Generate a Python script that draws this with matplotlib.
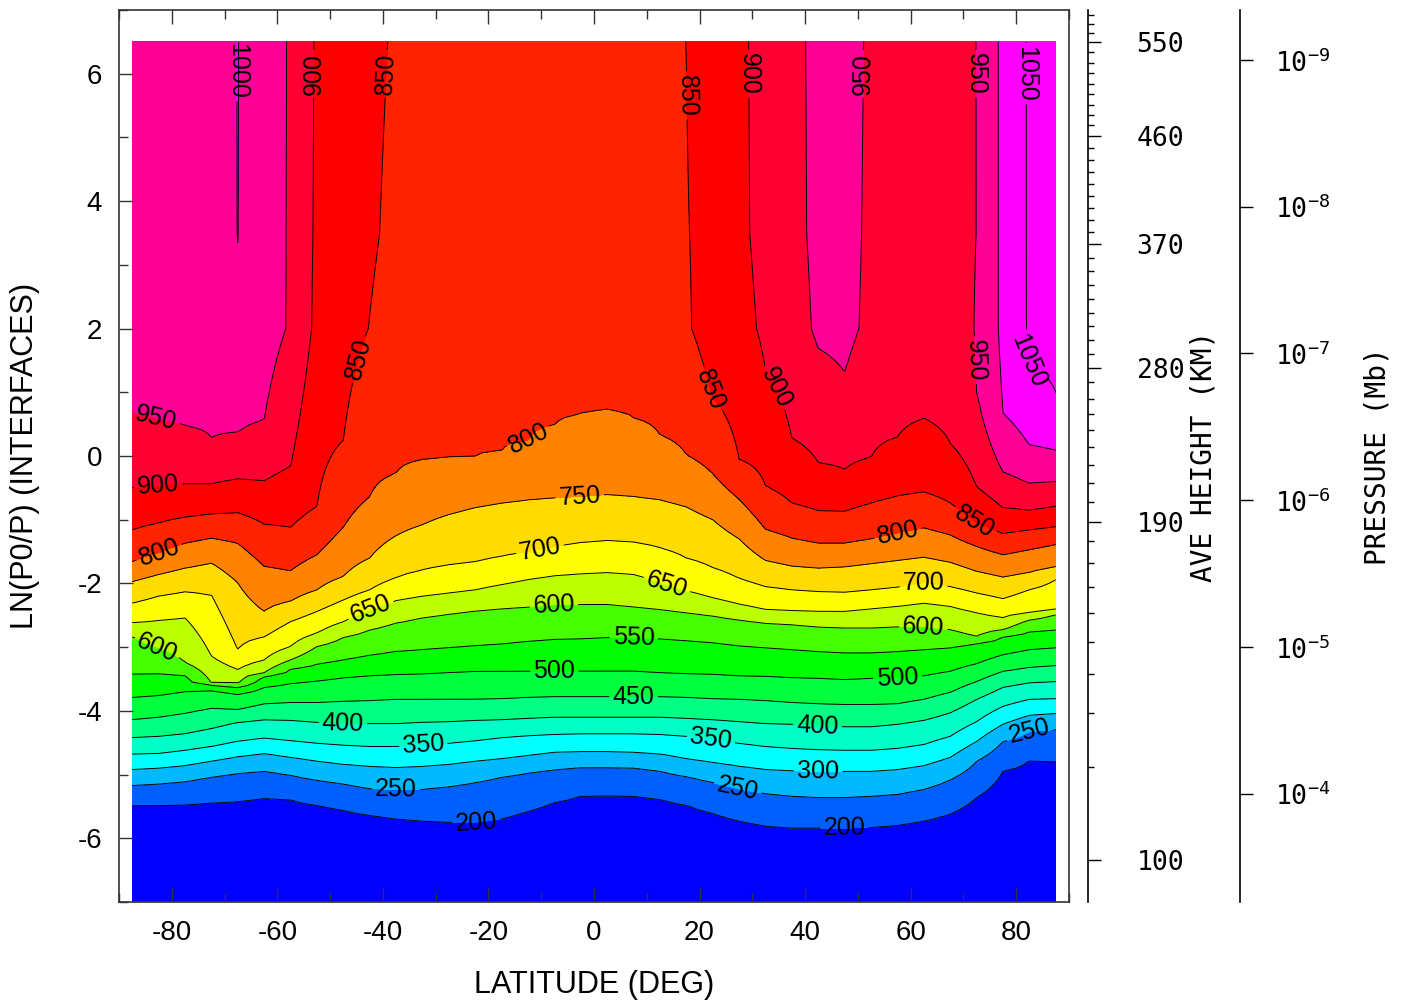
import numpy as np
import matplotlib
matplotlib.use('Agg')
import matplotlib.pyplot as plt
from matplotlib.ticker import MultipleLocator, FixedLocator

plt.rcParams['font.family'] = ['Liberation Sans', 'DejaVu Sans']
plt.rcParams['axes.unicode_minus'] = False
plt.rcParams['mathtext.fontset'] = 'custom'
plt.rcParams['mathtext.rm'] = 'DejaVu Sans Mono'
plt.rcParams['mathtext.it'] = 'DejaVu Sans Mono'

nan = np.nan

# latitude grid of the model (deg)
lats = np.arange(-87.5, 88.0, 5.0)

# height (ln(p0/p)) at which each isotherm is crossed, per latitude
z200 = [-5.48, -5.48, -5.47, -5.45, -5.42, -5.37, -5.40, -5.48, -5.56, -5.64, -5.70, -5.73,
        -5.75, -5.75, -5.70, -5.58, -5.44, -5.34, -5.33, -5.34, -5.39, -5.48, -5.61, -5.73,
        -5.81, -5.84, -5.84, -5.84, -5.83, -5.80, -5.73, -5.62, -5.36, -4.95, -4.78, -4.80]
z250 = [-5.17, -5.15, -5.11, -5.04, -4.98, -4.95, -5.01, -5.09, -5.15, -5.22, -5.23, -5.23,
        -5.19, -5.12, -5.04, -4.97, -4.92, -4.89, -4.89, -4.90, -4.95, -5.03, -5.12, -5.22,
        -5.30, -5.34, -5.36, -5.36, -5.34, -5.31, -5.23, -5.08, -4.79, -4.48, -4.32, -4.29]
z300 = [-4.92, -4.90, -4.86, -4.79, -4.72, -4.67, -4.73, -4.79, -4.84, -4.87, -4.89, -4.87,
        -4.84, -4.79, -4.75, -4.70, -4.65, -4.64, -4.64, -4.65, -4.68, -4.75, -4.81, -4.87,
        -4.92, -4.94, -4.95, -4.95, -4.95, -4.92, -4.86, -4.73, -4.48, -4.21, -4.07, -4.04]
z350 = [-4.68, -4.67, -4.62, -4.56, -4.48, -4.43, -4.47, -4.51, -4.54, -4.56, -4.56, -4.54,
        -4.51, -4.47, -4.42, -4.39, -4.37, -4.36, -4.36, -4.36, -4.37, -4.40, -4.45, -4.51,
        -4.56, -4.59, -4.61, -4.62, -4.62, -4.59, -4.53, -4.40, -4.17, -3.93, -3.82, -3.81]
z400 = [-4.42, -4.40, -4.36, -4.28, -4.18, -4.14, -4.15, -4.18, -4.20, -4.20, -4.20, -4.18,
        -4.17, -4.15, -4.14, -4.12, -4.10, -4.10, -4.10, -4.10, -4.10, -4.12, -4.14, -4.17,
        -4.20, -4.21, -4.23, -4.25, -4.25, -4.21, -4.15, -4.03, -3.82, -3.63, -3.56, -3.54]
z450 = [-4.14, -4.10, -4.04, -3.96, -3.98, -3.89, -3.87, -3.87, -3.85, -3.84, -3.82, -3.82,
        -3.82, -3.82, -3.81, -3.79, -3.78, -3.78, -3.78, -3.78, -3.78, -3.79, -3.81, -3.82,
        -3.84, -3.87, -3.89, -3.90, -3.90, -3.89, -3.82, -3.71, -3.54, -3.38, -3.32, -3.29]
z500 = [-3.79, -3.76, -3.70, -3.67, -3.74, -3.63, -3.57, -3.53, -3.48, -3.45, -3.43, -3.42,
        -3.40, -3.38, -3.38, -3.38, -3.38, -3.38, -3.38, -3.38, -3.40, -3.42, -3.43, -3.45,
        -3.46, -3.48, -3.49, -3.51, -3.49, -3.48, -3.45, -3.38, -3.26, -3.12, -3.04, -3.01]
z550 = [-3.43, -3.42, -3.45, -3.60, -3.63, -3.46, -3.35, -3.27, -3.20, -3.13, -3.07, -3.04,
        -3.01, -2.98, -2.95, -2.91, -2.88, -2.87, -2.85, -2.85, -2.87, -2.90, -2.93, -2.98,
        -3.01, -3.04, -3.07, -3.09, -3.09, -3.07, -3.04, -3.01, -2.95, -2.84, -2.76, -2.73]
z600 = [-2.83, -3.01, -3.24, -3.56, -3.57, -3.40, -3.20, -2.99, -2.85, -2.73, -2.62, -2.54,
        -2.48, -2.43, -2.40, -2.37, -2.33, -2.33, -2.33, -2.37, -2.41, -2.46, -2.51, -2.57,
        -2.62, -2.65, -2.68, -2.70, -2.70, -2.68, -2.68, -2.73, -2.84, -2.73, -2.57, -2.49]
z650 = [-2.62, -2.58, -2.54, -3.14, -3.35, -3.20, -2.99, -2.78, -2.60, -2.41, -2.27, -2.20,
        -2.15, -2.10, -2.02, -1.94, -1.88, -1.85, -1.83, -1.86, -1.98, -2.12, -2.23, -2.33,
        -2.41, -2.43, -2.44, -2.44, -2.40, -2.36, -2.31, -2.36, -2.46, -2.54, -2.46, -2.40]
z700 = [-2.31, -2.20, -2.13, -2.18, -3.04, -2.84, -2.60, -2.44, -2.26, -2.10, -1.91, -1.79,
        -1.71, -1.66, -1.58, -1.50, -1.43, -1.36, -1.33, -1.35, -1.44, -1.60, -1.75, -1.92,
        -2.05, -2.10, -2.13, -2.14, -2.10, -2.06, -1.99, -2.05, -2.15, -2.24, -2.10, -1.94]
z750 = [-1.97, -1.86, -1.76, -1.68, -1.99, -2.44, -2.28, -2.10, -1.89, -1.60, -1.25, -1.08,
        -0.92, -0.81, -0.74, -0.69, -0.66, -0.64, -0.61, -0.64, -0.69, -0.80, -1.00, -1.30,
        -1.64, -1.73, -1.76, -1.74, -1.69, -1.64, -1.59, -1.67, -1.81, -1.90, -1.83, -1.74]
z800 = [-1.66, -1.52, -1.37, -1.29, -1.37, -1.73, -1.80, -1.55, -1.12, -0.64, -0.27, -0.06,
        -0.03, 0.00, 0.08, 0.25, 0.49, 0.66, 0.72, 0.60, 0.33, 0.02, -0.28, -0.68,
        -1.15, -1.29, -1.37, -1.37, -1.30, -1.21, -1.13, -1.24, -1.42, -1.55, -1.47, -1.39]
z850 = [-1.16, -1.05, -0.96, -0.91, -0.89, -1.07, -1.12, -0.79, 0.25, nan, nan, nan,
        nan, nan, nan, nan, nan, nan, nan, nan, nan, nan, 0.91, -0.05,
        -0.47, -0.74, -0.86, -0.87, -0.74, -0.63, -0.57, -0.74, -1.05, -1.22, -1.16, -1.11]
z900 = [-0.50, -0.47, -0.44, -0.44, -0.36, -0.39, -0.16, nan, nan, nan, nan, nan,
        nan, nan, nan, nan, nan, nan, nan, nan, nan, nan, nan, nan,
        1.35, 0.28, -0.10, -0.21, -0.02, 0.30, 0.59, 0.20, -0.48, -0.81, -0.85, -0.79]
z950 = [0.67, 0.57, 0.47, 0.29, 0.37, 0.57, nan, nan, nan, nan, nan, nan,
        nan, nan, nan, nan, nan, nan, nan, nan, nan, nan, nan, nan,
        nan, nan, 1.69, 1.32, nan, nan, nan, nan, 0.99, -0.25, -0.43, -0.40]
z1000 = [nan] * 33 + [0.67, 0.17, 0.09]
z1050 = [nan] * 34 + [1.35, 0.99]

# temperature (K) in the nearly isothermal upper part, per latitude
T_z2 = [962, 966, 972, 976, 996, 970, 945.6, 888.6, 868, 849, 832, 826,
        826, 825, 824, 822, 818, 814, 812, 815, 825, 845, 870, 888,
        906.2, 925, 958.8, 962, 939.8, 932, 933, 935, 951.7, 1010.6, 1055, 1062]
T_z35 = [968, 972, 978, 982, 1000.45, 977, 944.5, 892.1, 875, 856, 840, 832,
         832, 830, 829, 828, 826, 824, 823, 826, 833, 848, 864.7, 893,
         910.5, 933, 963.4, 966, 941, 936, 936, 940, 950.2, 1011, 1055.3, 1066]
T_top = [972, 976, 982, 985, 1000.6, 982, 944.4, 894.3, 880, 860, 845.3, 835,
         834, 832, 831, 830, 829, 828, 828, 831, 836, 850.3, 876, 895,
         908.9, 935, 963.8, 968, 943, 938, 938, 942, 950.2, 1011, 1055.3, 1068]
T_bottom = 100.0

levels = [200, 250, 300, 350, 400, 450, 500, 550, 600, 650, 700, 750,
          800, 850, 900, 950, 1000, 1050]
band_colors = ['#0000ff', '#005fff', '#00b9ff', '#00ffff', '#00ffc8', '#00ff82',
               '#00ff3c', '#00ff00', '#46ff00', '#bbff00', '#ffff00', '#ffdc00',
               '#ff8200', '#ff2300', '#ff0000', '#ff0032', '#ff0096', '#ff00ff',
               '#ff00ff']

# right-hand axes: mean height (km) and pressure (mb)
hgt_km = [100, 110, 120, 130, 140, 150, 160, 170, 180, 190, 200, 210, 220, 230, 240,
          250, 260, 270, 280, 370, 460, 550, 560, 570, 580]
hgt_z = [-6.345, -4.888, -4.026, -3.415, -2.914, -2.471, -2.052, -1.676, -1.327, -1.029,
         -0.725, -0.428, -0.141, 0.136, 0.407, 0.653, 0.893, 1.164, 1.383, 3.332,
         5.024, 6.497, 6.638, 6.779, 6.925]
hgt_major = [100, 190, 280, 370, 460, 550]
p0_mb = 5e-7
p_exp = [-9, -8, -7, -6, -5, -4]

# contour label anchors (lat, ln(p0/p)) per level
label_pos = {
    200: [(-22.4, -5.70), (47.5, -5.83)],
    250: [(-37.5, -5.23), (27.3, -5.19), (82.5, -4.31)],
    300: [(42.5, -4.92)],
    350: [(-32.5, -4.34), (22.3, -4.34)],
    400: [(-47.5, -4.10), (42.4, -4.14)],
    450: [(7.5, -3.79)],
    500: [(-7.5, -3.38), (57.5, -3.46)],
    550: [(7.5, -2.88)],
    600: [(-82.6, -2.96), (-7.5, -2.41), (62.4, -2.68)],
    650: [(-42.5, -2.37), (13.8, -2.02)],
    700: [(-10.2, -1.47), (62.4, -1.96)],
    750: [(-2.7, -0.64)],
    800: [(-82.6, -1.47), (-12.5, 0.28), (57.5, -1.18)],
    850: [(-39.1, 6.0), (-43.9, 1.5), (17.4, 5.66), (21.9, 1.03), (72.4, -1.0)],
    900: [(-82.6, -0.42), (-52.7, 6.0), (29.4, 6.0), (33.3, 1.03)],
    950: [(-82.6, 0.69), (51.1, 6.0), (72.5, 6.0), (71.8, 1.5)],
    1000: [(-67.6, 6.05)],
    1050: [(82.0, 6.0), (82.5, 1.5)],
}

isotherms = [z200, z250, z300, z350, z400, z450, z500, z550, z600, z650, z700, z750,
             z800, z850, z900, z950, z1000, z1050]

zg = np.arange(-7.0, 6.5001, 0.05)
temp = np.empty((zg.size, lats.size))
for j in range(lats.size):
    zs = [-7.0]
    ts = [T_bottom]
    for lev, zc in zip(levels, isotherms):
        if not np.isnan(zc[j]) and zc[j] < 1.9:
            zs.append(zc[j])
            ts.append(lev)
    zs += [2.0, 3.5, 6.5]
    ts += [T_z2[j], T_z35[j], T_top[j]]
    order = np.argsort(zs)
    temp[:, j] = np.interp(zg, np.array(zs)[order], np.array(ts)[order])

fig = plt.figure(figsize=(14.03, 10.01), dpi=100)
ax = fig.add_axes([119 / 1403, 1 - 902 / 1001, 950 / 1403, 892 / 1001])

ax.contourf(lats, zg, temp, levels=[0] + levels + [5000], colors=band_colors)
for lev in levels:
    cs = ax.contour(lats, zg, temp, levels=[lev], colors='k', linewidths=0.7)
    if lev in label_pos:
        ax.clabel(cs, manual=label_pos[lev], inline=True, inline_spacing=4,
                  fontsize=18, fmt='%d', colors='k')

ax.set_xlim(-90, 90)
ax.set_ylim(-7, 7)
ax.xaxis.set_major_locator(FixedLocator(range(-80, 81, 20)))
ax.xaxis.set_minor_locator(MultipleLocator(10))
ax.yaxis.set_major_locator(FixedLocator(range(-6, 7, 2)))
ax.yaxis.set_minor_locator(MultipleLocator(1))
ax.tick_params(which='both', direction='in', top=True, right=True, color='#333333')
ax.tick_params(which='major', length=10, width=1, labelsize=20)
ax.tick_params(axis='x', which='major', pad=13)
ax.tick_params(axis='y', which='major', pad=12)
ax.tick_params(which='minor', length=6.5, width=1)
for s in ax.spines.values():
    s.set_color('#333333')
    s.set_linewidth(1.2)
ax.set_xlabel('LATITUDE (DEG)', fontsize=22)
ax.set_ylabel('LN(P0/P) (INTERFACES)', fontsize=22)
ax.xaxis.set_label_coords(0.5, (902 - 970) / 892)
ax.yaxis.set_label_coords((40 - 119) / 950, 0.5)


def side_axis(offset):
    a = ax.twinx()
    a.set_ylim(-7, 7)
    for s in ['top', 'bottom', 'left']:
        a.spines[s].set_visible(False)
    a.spines['right'].set_position(('axes', offset))
    a.spines['right'].set_linewidth(1.2)
    return a


mono = 'DejaVu Sans Mono'
ax_h = side_axis((1088 - 119) / 950)
ax_h.yaxis.set_major_locator(FixedLocator(np.interp(hgt_major, hgt_km, hgt_z)))
ax_h.yaxis.set_minor_locator(FixedLocator(np.interp(np.arange(100, 590, 10), hgt_km, hgt_z)))
ax_h.set_yticklabels([str(h) for h in hgt_major], fontfamily=mono, fontsize=19)
ax_h.tick_params(which='major', direction='out', length=9, width=1, pad=26)
ax_h.tick_params(which='minor', direction='out', length=4.5, width=1)
ax_h.set_ylabel('AVE HEIGHT (KM)', fontfamily=mono, fontsize=20, labelpad=4)

ax_p = side_axis((1240 - 119) / 950)
p_z = [np.log(p0_mb / 10.0 ** e) for e in p_exp]
ax_p.yaxis.set_major_locator(FixedLocator(p_z))
ax_p.yaxis.set_minor_locator(FixedLocator([]))
ax_p.set_yticklabels([r'$10^{%d}$' % e for e in p_exp], fontsize=19)
ax_p.tick_params(which='major', direction='out', length=9, width=1, pad=16)
ax_p.set_ylabel('PRESSURE (Mb)', fontfamily=mono, fontsize=20, labelpad=24)

fig.savefig('out.png', dpi=100)
